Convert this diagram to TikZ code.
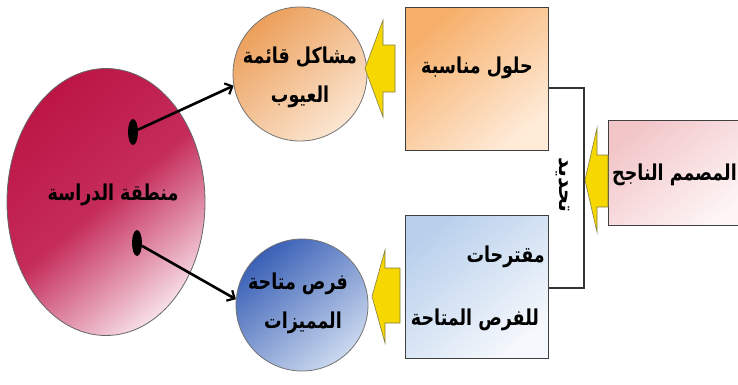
\documentclass[tikz,border=0pt]{standalone}
\usepackage{fontspec}
\usepackage{graphicx}
\newfontfamily\arabicfont[Script=Arabic]{DejaVu Sans}
\TeXXeTstate=1
\usetikzlibrary{arrows.meta,shapes.geometric}
\newcommand{\artxt}[1]{\scalebox{1}[1.25]{\beginR #1\endR}}
\newcommand{\artxtplain}[1]{\beginR #1\endR}
\definecolor{crimsonD}{HTML}{BC1646}
\definecolor{crimsonM}{HTML}{C52C5A}
\definecolor{crimsonL}{HTML}{F6DCE5}
\definecolor{orangeD}{HTML}{EC9F5A}
\definecolor{orangeL}{HTML}{FBE6D2}
\definecolor{boxorangeD}{HTML}{F6AE68}
\definecolor{boxorangeL}{HTML}{FEEBD8}
\definecolor{blueD}{HTML}{3A60B6}
\definecolor{blueL}{HTML}{CBD9EF}
\definecolor{boxblueD}{HTML}{B9D0EC}
\definecolor{boxblueL}{HTML}{F5F8FC}
\definecolor{pinkD}{HTML}{F2C6C9}
\definecolor{pinkL}{HTML}{FEF6F6}
\definecolor{arrowyellow}{HTML}{F6D700}
\begin{document}
\begin{tikzpicture}[x=1pt,y=-1pt,
  every node/.style={inner sep=0pt},
  atext/.style={font=\arabicfont\bfseries\fontsize{17.5}{21}\selectfont, text=black},
  circ/.style={circle, draw=black!55, line width=0.8pt, minimum size=#1},
  boxs/.style={rectangle, draw=black!75, line width=1pt},
  conn/.style={line width=2.6pt, -{Straight Barb[length=6pt,width=12pt,line width=2.2pt]}},
  yarrow/.style={fill=arrowyellow, draw=yellow!45!black, line width=0.6pt, line join=miter},
  bracket/.style={draw=black!80, line width=1.2pt},
  dotst/.style={ellipse, fill=black, minimum width=10pt, minimum height=26pt}]
\useasboundingbox (0,0) rectangle (738,384);
\clip (0,0) rectangle (738,384);
\fill[white] (0,0) rectangle (738,384);

% big study-area ellipse
\node[ellipse, draw=black!60, line width=0.8pt, minimum width=198pt, minimum height=267pt,
  top color=crimsonD, bottom color=crimsonL, middle color=crimsonM, shading angle=40] (area) at (106,202) {};
\node[atext] (areatxt) at (113,195) {\artxt{منطقة الدراسة}};
\node[dotst] (d1) at (133,132) {};
\node[dotst] (d2) at (137,243) {};

% circles
\node[circ=134pt, top color=orangeD, bottom color=orangeL, shading angle=40] (c1) at (300,74) {};
\node[atext] (c1a) at (300,57) {\artxt{مشاكل قائمة}};
\node[atext] (c1b) at (300,97) {\artxt{العيوب}};
\node[circ=132pt, top color=blueD, bottom color=blueL, shading angle=40] (c2) at (302,305) {};
\node[atext] (c2a) at (298,284) {\artxt{فرص متاحة}};
\node[atext] (c2b) at (303,323) {\artxt{المميزات}};

% boxes
\node[boxs, minimum width=143pt, minimum height=143pt, top color=boxorangeD, bottom color=boxorangeL, shading angle=40] (b1) at (476.5,78.5) {};
\node[atext] (b1t) at (477,68) {\artxt{حلول مناسبة}};
\node[boxs, minimum width=143pt, minimum height=143pt, top color=boxblueD, bottom color=boxblueL, shading angle=40] (b2) at (476.5,286.5) {};
\node[atext, anchor=east] (b2a) at (545,257) {\artxt{مقترحات}};
\node[atext] (b2b) at (475,320) {\artxt{للفرص المتاحة}};
\node[boxs, minimum width=145pt, minimum height=105pt, top color=pinkD, bottom color=pinkL, shading angle=40] (b3) at (680.5,172.5) {};
\node[atext, anchor=east] (b3t) at (737,175) {\artxt{المصمم الناجح}};

% bracket and its label
\coordinate (k1) at (584,88);
\coordinate (k2) at (584,288);
\draw[bracket] ([yshift=-9.5pt]b1.east) -- (k1) -- (k2) -- ([yshift=-1.5pt]b2.east);
\node[font=\arabicfont\bfseries\fontsize{21}{24}\selectfont, rotate=-90] (tahdid) at (563,185) {\artxtplain{تحديد}};

% yellow block arrows
\draw[yarrow] (365,68.5) -- (383,20) -- (383,45) -- (395,45) -- (395,92) -- (383,92) -- (383,117) -- cycle;
\draw[yarrow] (372,296.5) -- (385,250) -- (385,268) -- (400,268) -- (400,323) -- (385,323) -- (385,343) -- cycle;
\draw[yarrow] (585,180) -- (597,128) -- (597,155) -- (608,155) -- (608,207) -- (597,207) -- (597,232) -- cycle;

% connectors
\draw[conn] (d1) -- (c1.190);
\draw[conn] (d2) -- (c2.175);
\end{tikzpicture}
\end{document}
